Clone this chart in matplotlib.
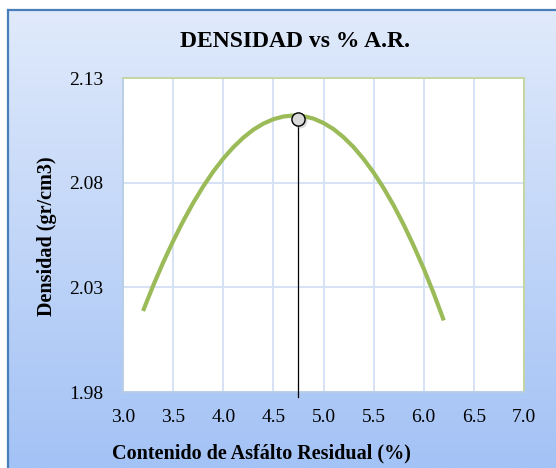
import numpy as np
import matplotlib.pyplot as plt

plt.rcParams['font.family'] = 'Liberation Serif'

contenido = [3.2, 3.3, 3.4, 3.5, 3.6, 3.7, 3.8, 3.9, 4.0, 4.1, 4.2, 4.3, 4.4, 4.5, 4.6, 4.7,
             4.8, 4.9, 5.0, 5.1, 5.2, 5.3, 5.4, 5.5, 5.6, 5.7, 5.8, 5.9, 6.0, 6.1, 6.2]
densidad = [2.0187, 2.0307, 2.0418, 2.0521, 2.0616, 2.0703, 2.0782, 2.0853, 2.0915, 2.0969,
            2.1015, 2.1053, 2.1082, 2.1103, 2.1116, 2.1121, 2.1118, 2.1106, 2.1085, 2.1056,
            2.1017, 2.0970, 2.0913, 2.0848, 2.0774, 2.0691, 2.0599, 2.0498, 2.0389, 2.0270,
            2.0142]
optimo_x = 4.75
optimo_y = 2.1105

xticks = [3.0, 3.5, 4.0, 4.5, 5.0, 5.5, 6.0, 6.5, 7.0]
yticks = [1.98, 2.03, 2.08, 2.13]

fig = plt.figure(figsize=(5.56, 4.68), dpi=100)

# fondo degradado con borde azul
bg = fig.add_axes([8/556, 0, 1 - 8/556, 1 - 10/468])
top = np.array([224, 234, 251]) / 255
bottom = np.array([163, 194, 245]) / 255
t = np.linspace(0, 1, 256)[:, None]
grad = (top * (1 - t) + bottom * t)[:, None, :]
bg.imshow(grad, aspect='auto', extent=[0, 1, 0, 1])
bg.set_xticks([])
bg.set_yticks([])
for s in ['right', 'bottom']:
    bg.spines[s].set_visible(False)
for s in ['left', 'top']:
    bg.spines[s].set_color('#4a7ebb')
    bg.spines[s].set_linewidth(1.6)

ax = fig.add_axes([123/556, 1 - 392/468, 401/556, 314/468])
ax.set_facecolor('white')
ax.plot(contenido, densidad, color='#9bbb59', lw=3.0, solid_capstyle='butt',
        solid_joinstyle='round', zorder=3)
ax.plot([optimo_x, optimo_x], [optimo_y, 1.9775], color='black', lw=0.9, clip_on=False, zorder=4)
ax.plot(optimo_x + 0.02, optimo_y - 0.0012, 'o', ms=10, color='#9a9a9a', alpha=0.35, mec='none', zorder=4)
ax.plot(optimo_x, optimo_y, 'o', ms=9.5, mfc='#d9d9d9', mec='black', mew=1.0, zorder=5)

ax.set_xlim(3.0, 7.0)
ax.set_ylim(1.98, 2.13)
ax.set_xticks(xticks)
ax.set_yticks(yticks)
ax.set_xticklabels(['%.1f' % v for v in xticks])
ax.set_yticklabels(['%.2f' % v for v in yticks])
ax.tick_params(length=0, labelsize=14)
ax.tick_params(axis='x', pad=12)
ax.tick_params(axis='y', pad=14)
ax.grid(True, color='#d3e1f3', lw=1.3)
ax.set_axisbelow(True)
ax.spines['left'].set_color('#b9cde5')
ax.spines['bottom'].set_color('#b9cde5')
ax.spines['top'].set_color('#c3d69b')
ax.spines['right'].set_color('#c3d69b')
for s in ax.spines.values():
    s.set_linewidth(1.3)

fig.text(0.53, 0.912, 'DENSIDAD vs % A.R.', ha='center', va='center', fontsize=17, fontweight='bold')
fig.text(0.4706, 0.031, 'Contenido de Asfálto Residual (%)', ha='center', va='center',
         fontsize=14.5, fontweight='bold')
fig.text(0.0845, 0.496, 'Densidad (gr/cm3)', ha='center', va='center', rotation=90,
         fontsize=14.5, fontweight='bold')

plt.savefig('out.png', dpi=100)
